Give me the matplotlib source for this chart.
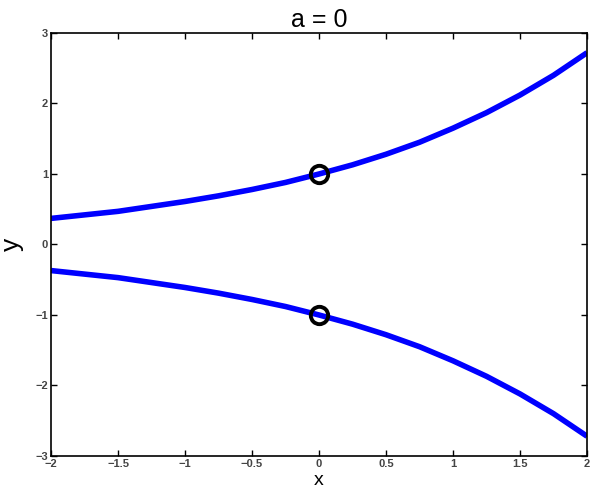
import matplotlib
matplotlib.use("Agg")
import matplotlib.pyplot as plt

# values
x_vals = [-2.0, -1.75, -1.5, -1.25, -1.0, -0.75, -0.5, -0.25, 0.0,
          0.25, 0.5, 0.75, 1.0, 1.25, 1.5, 1.75, 2.0]
upper_y = [0.37, 0.42, 0.47, 0.54, 0.61, 0.69, 0.78, 0.88, 1.0,
           1.13, 1.28, 1.45, 1.65, 1.87, 2.12, 2.40, 2.72]
lower_y = [-0.37, -0.42, -0.47, -0.54, -0.61, -0.69, -0.78, -0.88, -1.0,
           -1.13, -1.28, -1.45, -1.65, -1.87, -2.12, -2.40, -2.72]
point_x = [0, 0]
point_y = [1, -1]

x_ticks = [-2, -1.5, -1, -0.5, 0, 0.5, 1, 1.5, 2]
x_tick_labels = ["\u22122", "\u22121.5", "\u22121", "\u22120.5", "0", "0.5", "1", "1.5", "2"]
y_ticks = [-3, -2, -1, 0, 1, 2, 3]
y_tick_labels = ["\u22123", "\u22122", "\u22121", "0", "1", "2", "3"]

plt.rcParams['font.family'] = ['Liberation Sans', 'DejaVu Sans']

fig = plt.figure(figsize=(5.96, 4.9), dpi=100)
ax = fig.add_axes([0.0856, 0.0694, 0.8994, 0.8633])

ax.plot(x_vals, upper_y, color='#0000ff', linewidth=4, solid_capstyle='butt')
ax.plot(x_vals, lower_y, color='#0000ff', linewidth=4, solid_capstyle='butt')
ax.plot(point_x, point_y, 'o', markersize=12.5, markerfacecolor='none',
        markeredgecolor='black', markeredgewidth=2.8)

ax.set_xlim(-2, 2)
ax.set_ylim(-3, 3)
ax.set_xticks(x_ticks)
ax.set_xticklabels(x_tick_labels, fontsize=8, fontweight='bold', color='#444444')
ax.set_yticks(y_ticks)
ax.set_yticklabels(y_tick_labels, fontsize=8, fontweight='bold', color='#444444')
ax.tick_params(direction='in', top=True, right=True, length=4, width=1, pad=2)
for s in ax.spines.values():
    s.set_linewidth(1.2)

ax.set_title("a = 0", fontsize=18, pad=4)
# x label sits at the very bottom edge, kept inside the figure
fig.text(0.5353, 0.002, "x", fontsize=14, ha='center', va='bottom')
ax.set_ylabel("y", fontsize=19, labelpad=8)

fig.savefig("out.png", dpi=100)
